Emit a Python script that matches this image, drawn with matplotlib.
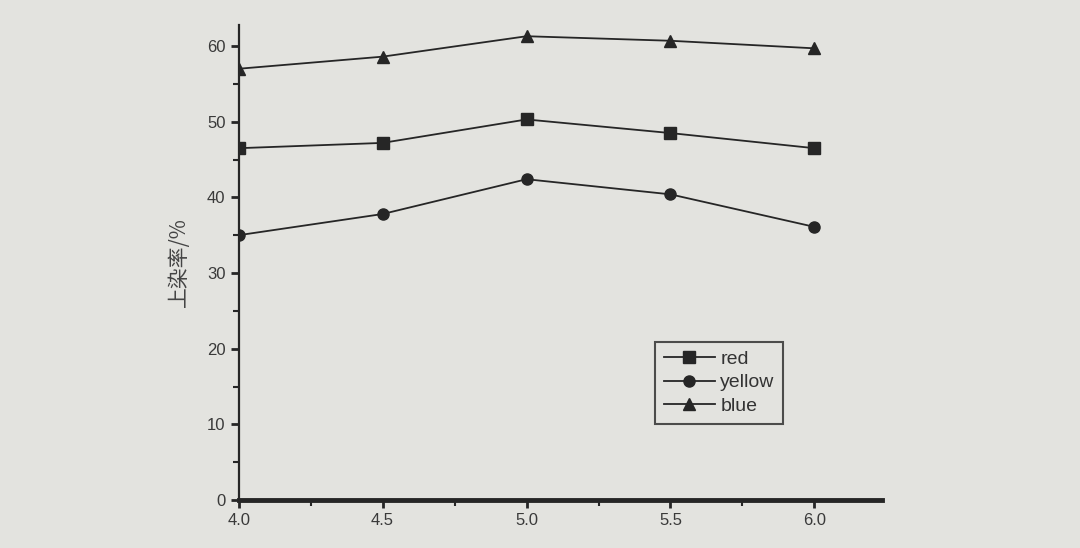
import matplotlib
matplotlib.use("Agg")
import matplotlib.pyplot as plt
from matplotlib.ticker import MultipleLocator

plt.rcParams['font.family'] = ['Liberation Sans', 'Noto Sans CJK SC', 'DejaVu Sans']

# pH values on the x axis
ph = [4.0, 4.5, 5.0, 5.5, 6.0]

# dye uptake (%) per dye
red = [46.5, 47.2, 50.3, 48.5, 46.5]
yellow = [35.0, 37.8, 42.4, 40.4, 36.1]
blue = [57.0, 58.6, 61.3, 60.7, 59.7]

bg = '#e3e3df'
ink = '#262626'

fig = plt.figure(figsize=(10.8, 5.48), dpi=100, facecolor=bg)
ax = fig.add_axes([0.221, 0.0876, 0.596, 0.867])
ax.set_facecolor(bg)

ax.plot(ph, red, color=ink, lw=1.3, marker='s', ms=8, label='red')
ax.plot(ph, yellow, color=ink, lw=1.3, marker='o', ms=8, label='yellow')
ax.plot(ph, blue, color=ink, lw=1.3, marker='^', ms=9, label='blue')

ax.set_xlim(4.0, 6.236)
ax.set_ylim(0, 62.8)
ax.xaxis.set_major_locator(MultipleLocator(0.5))
ax.xaxis.set_minor_locator(MultipleLocator(0.25))
ax.yaxis.set_major_locator(MultipleLocator(10))
ax.yaxis.set_minor_locator(MultipleLocator(5))
ax.set_xticks([4.0, 4.5, 5.0, 5.5, 6.0])
ax.set_xticklabels(['4.0', '4.5', '5.0', '5.5', '6.0'])

for side in ['top', 'right']:
    ax.spines[side].set_visible(False)
ax.spines['left'].set_linewidth(1.6)
ax.spines['left'].set_color(ink)
ax.spines['bottom'].set_linewidth(3.5)
ax.spines['bottom'].set_color(ink)

ax.tick_params(axis='both', which='major', direction='out', length=6, width=2,
               colors=ink, labelsize=12, labelcolor='#3a3a3a')
ax.tick_params(axis='both', which='minor', direction='out', length=4, width=1.5,
               colors=ink)

ax.set_ylabel('上染率/%', fontsize=15, color='#444444',
              family=['Noto Sans CJK SC', 'DejaVu Sans'], labelpad=12)

leg = ax.legend(loc='upper left', bbox_to_anchor=(0.632, 0.354), frameon=True,
                fancybox=False, edgecolor=ink, fontsize=14, handlelength=2.6,
                handletextpad=0.3, labelspacing=0.3, borderpad=0.45)
leg.get_frame().set_facecolor(bg)
leg.get_frame().set_linewidth(1.5)
for t in leg.get_texts():
    t.set_color('#333333')

fig.savefig('out.png', dpi=100, facecolor=bg)
